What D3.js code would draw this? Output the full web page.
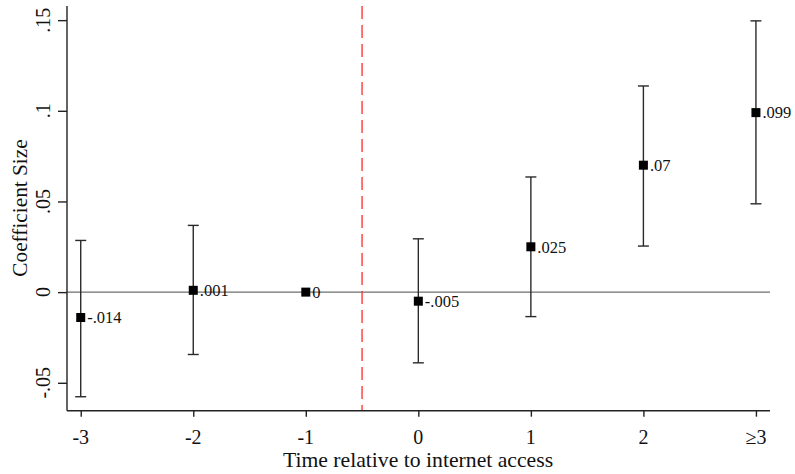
<!DOCTYPE html>
<html>
<head>
<meta charset="utf-8">
<script src="https://cdn.jsdelivr.net/npm/d3@7"></script>
<style>
  html, body { margin: 0; padding: 0; background: #fff; }
  svg { display: block; font-family: "Liberation Serif", "Times New Roman", serif; }
</style>
</head>
<body>
<svg id="chart" width="795" height="474"></svg>
<script>
// Event-study estimates by time relative to internet access
const periods = ["-3", "-2", "-1", "0", "1", "2", "\u22653"];
const coefs   = [-0.014, 0.001, 0, -0.005, 0.025, 0.07, 0.099];
const ciLow   = [-0.0577, -0.0344, 0, -0.039, -0.0135, 0.0254, 0.0487];
const ciHigh  = [0.0285, 0.0368, 0, 0.0294, 0.0635, 0.1137, 0.1496];
const coefLabels = ["-.014", ".001", "0", "-.005", ".025", ".07", ".099"];
const yTicks = [-0.05, 0, 0.05, 0.1, 0.15];
const yTickLabels = ["-.05", "0", ".05", ".1", ".15"];

const svg = d3.select("#chart");
const plotLeft = 67, plotRight = 770, plotTop = 6, plotBottom = 410.7;

const x = d3.scaleLinear().domain([-0.122, periods.length - 1 + 0.125]).range([plotLeft, plotRight]);
const y = d3.scaleLinear().domain([-0.0654, 0.1578]).range([plotBottom, plotTop]);

const axisColor = "#222";

// zero reference line
svg.append("line")
  .attr("x1", plotLeft).attr("x2", plotRight)
  .attr("y1", y(0)).attr("y2", y(0))
  .attr("stroke", "#6e6e6e").attr("stroke-width", 1.4);

// treatment timing marker between -1 and 0
svg.append("line")
  .attr("x1", x(2.5)).attr("x2", x(2.5))
  .attr("y1", plotTop).attr("y2", plotBottom)
  .attr("stroke", "#ff2a2a").attr("stroke-width", 1.3)
  .attr("stroke-dasharray", "13,6");

// y axis
const yAxis = d3.axisLeft(y).tickValues(yTicks).tickSize(9).tickFormat("");
const gy = svg.append("g").attr("transform", `translate(${plotLeft},0)`).call(yAxis);
gy.select(".domain").attr("stroke", axisColor).attr("stroke-width", 1.4).attr("d", `M0,${plotTop}V${plotBottom}`);
gy.selectAll(".tick line").attr("stroke", axisColor).attr("stroke-width", 1.4);
svg.append("g").selectAll("text").data(yTicks).join("text")
  .attr("transform", (d) => `translate(50,${y(d)}) rotate(-90)`)
  .attr("text-anchor", "middle")
  .attr("font-size", 20)
  .attr("fill", "#111")
  .text((d, i) => yTickLabels[i]);

// x axis
const xAxis = d3.axisBottom(x).tickValues(d3.range(periods.length)).tickSize(6).tickFormat("");
const gx = svg.append("g").attr("transform", `translate(0,${plotBottom})`).call(xAxis);
gx.select(".domain").attr("stroke", axisColor).attr("stroke-width", 1.4).attr("d", `M${plotLeft},0H${plotRight}`);
gx.selectAll(".tick line").attr("stroke", axisColor).attr("stroke-width", 1.4);
svg.append("g").selectAll("text").data(periods).join("text")
  .attr("x", (d, i) => x(i))
  .attr("y", 444)
  .attr("text-anchor", "middle")
  .attr("font-size", 20)
  .attr("fill", "#111")
  .text((d) => d);

// axis titles
svg.append("text")
  .attr("x", (plotLeft + plotRight) / 2 - 0.5).attr("y", 466.5)
  .attr("text-anchor", "middle")
  .attr("font-size", 21.7)
  .attr("fill", "#111")
  .text("Time relative to internet access");
svg.append("text")
  .attr("transform", `translate(27,208) rotate(-90)`)
  .attr("text-anchor", "middle")
  .attr("font-size", 21.3)
  .attr("fill", "#111")
  .text("Coefficient Size");

// confidence intervals
const idx = d3.range(periods.length).filter((i) => ciHigh[i] !== ciLow[i]);
const ci = svg.append("g").attr("stroke", "#2a2a2a").attr("stroke-width", 1.4);
ci.selectAll("line.v").data(idx).join("line").attr("class", "v")
  .attr("x1", (i) => x(i)).attr("x2", (i) => x(i))
  .attr("y1", (i) => y(ciLow[i])).attr("y2", (i) => y(ciHigh[i]));
ci.selectAll("line.hi").data(idx).join("line").attr("class", "hi")
  .attr("x1", (i) => x(i) - 5.5).attr("x2", (i) => x(i) + 5.5)
  .attr("y1", (i) => y(ciHigh[i])).attr("y2", (i) => y(ciHigh[i]));
ci.selectAll("line.lo").data(idx).join("line").attr("class", "lo")
  .attr("x1", (i) => x(i) - 5.5).attr("x2", (i) => x(i) + 5.5)
  .attr("y1", (i) => y(ciLow[i])).attr("y2", (i) => y(ciLow[i]));

// point estimates
const ms = 9;
svg.append("g").selectAll("rect").data(coefs).join("rect")
  .attr("x", (d, i) => x(i) - ms / 2)
  .attr("y", (d) => y(d) - ms / 2)
  .attr("width", ms).attr("height", ms)
  .attr("fill", "#000");

// value labels
svg.append("g").selectAll("text").data(coefs).join("text")
  .attr("x", (d, i) => x(i) + 6.5)
  .attr("y", (d) => y(d))
  .attr("dy", "0.35em")
  .attr("font-size", 16.5)
  .attr("fill", "#111")
  .text((d, i) => coefLabels[i]);
</script>
</body>
</html>
